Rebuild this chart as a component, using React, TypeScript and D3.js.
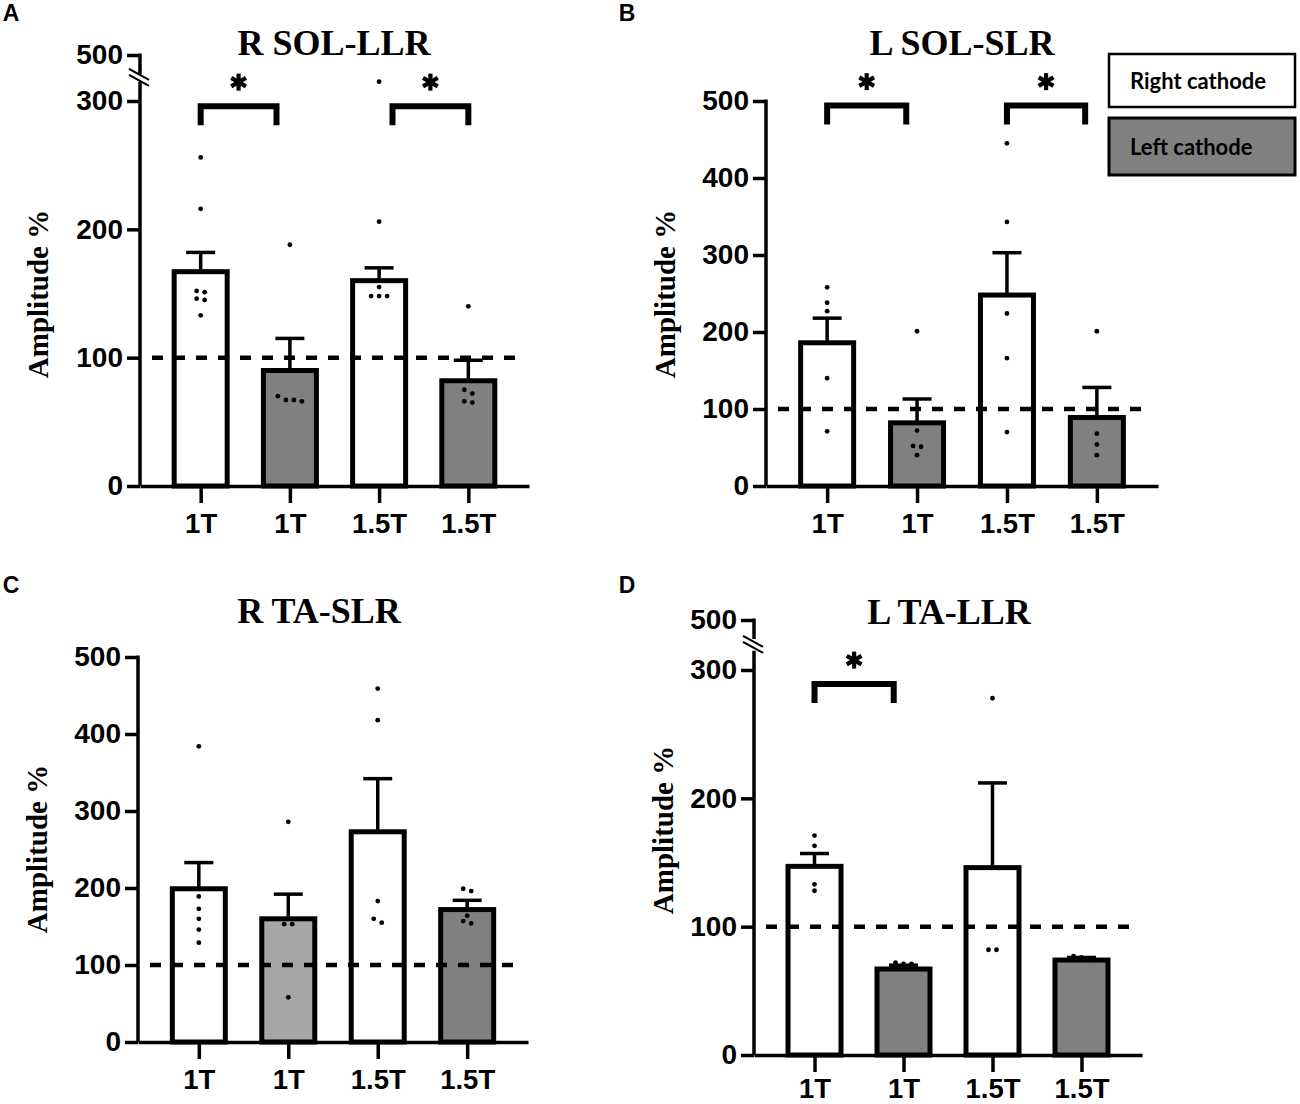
import React, { useEffect, useRef } from "react";
import * as d3 from "d3";

// x categories (same in every panel)
const categories = ["1T", "1T", "1.5T", "1.5T"];
const legendLabels = ["Right cathode", "Left cathode"];

// A: R SOL-LLR
const meansA = [167, 90, 160, 82];
const semTopA = [182, 115, 170, 98];
const pointsA = [
  [256, 216, 152, 151, 146, 145, 133],
  [188, 70, 66, 67, 67],
  [316, 206, 155, 148, 148, 148],
  [140, 75, 72, 66, 65],
];

// B: L SOL-SLR
const meansB = [186, 82, 248, 89];
const semTopB = [218, 113, 303, 128];
const pointsB = [
  [258, 238, 227, 140, 71],
  [201, 72, 52, 51, 40],
  [445, 343, 224, 166, 70],
  [201, 68, 54, 40],
];

// C: R TA-SLR
const meansC = [199, 160, 273, 172];
const semTopC = [233, 192, 342, 184];
const pointsC = [
  [384, 189, 173, 160, 146, 129],
  [286, 153, 153, 58],
  [459, 418, 183, 160, 155],
  [199, 196, 164, 157, 154],
];

// D: L TA-LLR
const meansD = [147, 67, 146, 74];
const semTopD = [157, 70, 212, 76];
const pointsD = [
  [171, 163, 133, 128],
  [72, 71, 71],
  [278, 82, 82],
  [77, 76, 74],
];

const ticksBroken = [0, 100, 200, 300, 500];
const ticksFull = [0, 100, 200, 300, 400, 500];

const WHITE = "#ffffff";
const GRAY = "#808080";
const LIGHT = "#a6a6a6";

const SANS = "'Liberation Sans', Arial, sans-serif";
const SERIF = "'Liberation Serif', 'Times New Roman', serif";

interface Bracket {
  from: number;
  to: number;
  y: number;
}

interface Panel {
  letter: string;
  title: string;
  means: number[];
  semTop: number[];
  points: number[][];
  fills: string[];
  brackets: Bracket[];
  broken: boolean;
  axisX: number;
  axisEnd: number;
  y0: number;
  y300: number;
  y500: number;
  xPad: number;
  titleX: number;
  titleY: number;
  labelX: number;
  labelY: number;
  letterX: number;
  letterY: number;
}

const panels: Panel[] = [
  {
    letter: "A", title: "R SOL-LLR", means: meansA, semTop: semTopA, points: pointsA,
    fills: [WHITE, GRAY, WHITE, GRAY],
    brackets: [{ from: 0, to: 0.85, y: 296 }, { from: 2.15, to: 3, y: 296 }],
    broken: true, axisX: 140, axisEnd: 529, y0: 486, y300: 101, y500: 55, xPad: 10,
    titleX: 334, titleY: 55, labelX: 38, labelY: 294, letterX: 11, letterY: 21,
  },
  {
    letter: "B", title: "L SOL-SLR", means: meansB, semTop: semTopB, points: pointsB,
    fills: [WHITE, GRAY, WHITE, GRAY],
    brackets: [{ from: 0, to: 0.88, y: 494 }, { from: 2, to: 2.87, y: 494 }],
    broken: false, axisX: 766, axisEnd: 1158, y0: 486, y300: 255, y500: 101, xPad: 10,
    titleX: 962, titleY: 55, labelX: 665, labelY: 294, letterX: 627, letterY: 21,
  },
  {
    letter: "C", title: "R TA-SLR", means: meansC, semTop: semTopC, points: pointsC,
    fills: [WHITE, LIGHT, WHITE, GRAY],
    brackets: [],
    broken: false, axisX: 138, axisEnd: 528, y0: 1042, y300: 811, y500: 657, xPad: 10,
    titleX: 319, titleY: 623, labelX: 37, labelY: 849, letterX: 11, letterY: 593,
  },
  {
    letter: "D", title: "L TA-LLR", means: meansD, semTop: semTopD, points: pointsD,
    fills: [WHITE, GRAY, WHITE, GRAY],
    brackets: [{ from: 0, to: 0.89, y: 289 }],
    broken: true, axisX: 754, axisEnd: 1142, y0: 1055, y300: 670, y500: 620, xPad: 6,
    titleX: 949, titleY: 624, labelX: 663, labelY: 830, letterX: 627, letterY: 593,
  },
];

const drawPanel = (svg: any, p: Panel) => {
  const g = svg.append("g");

  const x = d3
    .scalePoint<number>()
    .domain(d3.range(categories.length))
    .range([p.axisX, p.axisEnd])
    .padding(0.68);
  const step = x.step();

  const k = (p.y0 - p.y300) / 300;
  const y = p.broken
    ? d3.scaleLinear().domain([0, 315, 480, 500]).range([p.y0, p.y0 - 315 * k, p.y500 + 19, p.y500])
    : d3.scaleLinear().domain([0, 500]).range([p.y0, p.y500]);

  const barW = 53;

  // bars
  g.selectAll("rect.bar")
    .data(p.means)
    .enter()
    .append("rect")
    .attr("class", "bar")
    .attr("x", (_d: number, i: number) => (x(i) as number) - barW / 2)
    .attr("y", (d: number) => y(d))
    .attr("width", barW)
    .attr("height", (d: number) => p.y0 - y(d))
    .attr("fill", (_d: number, i: number) => p.fills[i])
    .attr("stroke", "black")
    .attr("stroke-width", 5);

  // error bars (upper only)
  p.means.forEach((m, i) => {
    const cx = x(i) as number;
    g.append("line")
      .attr("x1", cx).attr("x2", cx)
      .attr("y1", y(m) - 2).attr("y2", y(p.semTop[i]))
      .attr("stroke", "black").attr("stroke-width", 3.5);
    g.append("line")
      .attr("x1", cx - 14.5).attr("x2", cx + 14.5)
      .attr("y1", y(p.semTop[i])).attr("y2", y(p.semTop[i]))
      .attr("stroke", "black").attr("stroke-width", 3.5);
  });

  // individual points, dodged sideways when they overlap
  p.points.forEach((vals, i) => {
    const cx = x(i) as number;
    const sorted = [...vals].sort((a, b) => b - a);
    const groups: number[][] = [];
    sorted.forEach((v) => {
      const last = groups[groups.length - 1];
      if (last && Math.abs(y(last[last.length - 1]) - y(v)) < 5) last.push(v);
      else groups.push([v]);
    });
    groups.forEach((grp) => {
      grp.forEach((v, j) => {
        g.append("circle")
          .attr("cx", cx + (j - (grp.length - 1) / 2) * 8)
          .attr("cy", y(v))
          .attr("r", 2.4)
          .attr("fill", "black");
      });
    });
  });

  // dashed 100% line
  g.append("line")
    .attr("x1", p.axisX + 12)
    .attr("x2", p.axisEnd - 6)
    .attr("y1", y(100))
    .attr("y2", y(100))
    .attr("stroke", "black")
    .attr("stroke-width", 4.5)
    .attr("stroke-dasharray", "11,11");

  // y axis
  const yAxis = g
    .append("g")
    .attr("transform", `translate(${p.axisX},0)`)
    .call(
      d3.axisLeft(y)
        .tickValues(p.broken ? ticksBroken : ticksFull)
        .tickSize(13)
        .tickSizeOuter(0)
        .tickPadding(4)
        .tickFormat(d3.format("d"))
    );
  yAxis.selectAll("line").attr("stroke", "black").attr("stroke-width", 3.5);
  yAxis.selectAll("text")
    .attr("fill", "black")
    .style("font-family", SANS)
    .style("font-weight", "bold")
    .style("font-size", "28px");
  yAxis.select(".domain").remove();

  if (p.broken) {
    yAxis.append("line")
      .attr("x1", 0).attr("x2", 0).attr("y1", p.y0).attr("y2", y(315))
      .attr("stroke", "black").attr("stroke-width", 3.5);
    yAxis.append("line")
      .attr("x1", 0).attr("x2", 0).attr("y1", y(480)).attr("y2", y(500) - 1.5)
      .attr("stroke", "black").attr("stroke-width", 3.5);
    const mid = (y(315) + y(480)) / 2;
    [-3, 3].forEach((off) => {
      yAxis.append("line")
        .attr("x1", -11).attr("y1", mid + off - 6)
        .attr("x2", 9).attr("y2", mid + off + 5)
        .attr("stroke", "black").attr("stroke-width", 2.2);
    });
  } else {
    yAxis.append("line")
      .attr("x1", 0).attr("x2", 0).attr("y1", p.y0).attr("y2", y(500) - 1.5)
      .attr("stroke", "black").attr("stroke-width", 3.5);
  }

  // x axis
  const xAxis = g
    .append("g")
    .attr("transform", `translate(0,${p.y0})`)
    .call(
      d3.axisBottom(x)
        .tickSize(17)
        .tickSizeOuter(0)
        .tickPadding(p.xPad)
        .tickFormat((i: number) => categories[i])
    );
  xAxis.select(".domain").attr("stroke", "black").attr("stroke-width", 3.5);
  xAxis.selectAll("line").attr("stroke", "black").attr("stroke-width", 3.5);
  xAxis.selectAll("text")
    .attr("fill", "black")
    .style("font-family", SANS)
    .style("font-weight", "bold")
    .style("font-size", "27.5px");

  // significance brackets
  p.brackets.forEach((b) => {
    const x1 = (x(0) as number) + b.from * step;
    const x2 = (x(0) as number) + b.to * step;
    const by = y(b.y);
    const path = d3.path();
    path.moveTo(x1, by + 19);
    path.lineTo(x1, by);
    path.lineTo(x2, by);
    path.lineTo(x2, by + 19);
    g.append("path")
      .attr("d", path.toString())
      .attr("fill", "none")
      .attr("stroke", "black")
      .attr("stroke-width", 6);
    // asterisk
    const sx = (x1 + x2) / 2;
    const sy = by - 24;
    [90, 30, -30].forEach((deg) => {
      const r = (deg * Math.PI) / 180;
      const dx = Math.cos(r) * 8.5;
      const dy = Math.sin(r) * 8.5;
      g.append("line")
        .attr("x1", sx - dx).attr("y1", sy - dy)
        .attr("x2", sx + dx).attr("y2", sy + dy)
        .attr("stroke", "black")
        .attr("stroke-width", 4.2);
    });
  });

  // title
  g.append("text")
    .attr("x", p.titleX)
    .attr("y", p.titleY)
    .attr("text-anchor", "middle")
    .style("font-family", SERIF)
    .style("font-weight", "bold")
    .style("font-size", "36px")
    .text(p.title);

  // y label
  g.append("text")
    .attr("transform", `translate(${p.labelX},${p.labelY}) rotate(-90)`)
    .attr("text-anchor", "middle")
    .attr("dy", "0.35em")
    .style("font-family", SERIF)
    .style("font-weight", "bold")
    .style("font-size", "29px")
    .text("Amplitude %");

  // panel letter
  g.append("text")
    .attr("x", p.letterX)
    .attr("y", p.letterY)
    .attr("text-anchor", "middle")
    .style("font-family", SANS)
    .style("font-weight", "bold")
    .style("font-size", "23px")
    .text(p.letter);
};

const App: React.FC = () => {
  const ref = useRef<SVGSVGElement | null>(null);

  useEffect(() => {
    const svg = d3.select(ref.current);
    svg.selectAll("*").remove();

    panels.forEach((p) => drawPanel(svg, p));

    // legend
    const legendFills = [WHITE, GRAY];
    const boxes = [
      { y: 54, h: 53, sw: 2.5 },
      { y: 118, h: 57, sw: 3 },
    ];
    legendLabels.forEach((label, i) => {
      svg.append("rect")
        .attr("x", 1109)
        .attr("y", boxes[i].y)
        .attr("width", 186)
        .attr("height", boxes[i].h)
        .attr("fill", legendFills[i])
        .attr("stroke", "black")
        .attr("stroke-width", boxes[i].sw);
      svg.append("text")
        .attr("x", 1130)
        .attr("y", boxes[i].y + boxes[i].h / 2 + 8)
        .style("font-family", "Lato, 'Open Sans', sans-serif")
        .style("font-weight", "bold")
        .style("font-size", "22px")
        .attr("fill", "black")
        .text(label);
    });
  }, []);

  return (
    <svg
      ref={ref}
      width={1300}
      height={1104}
      style={{ position: "absolute", left: 0, top: 0, background: "white" }}
    />
  );
};

export default App;
